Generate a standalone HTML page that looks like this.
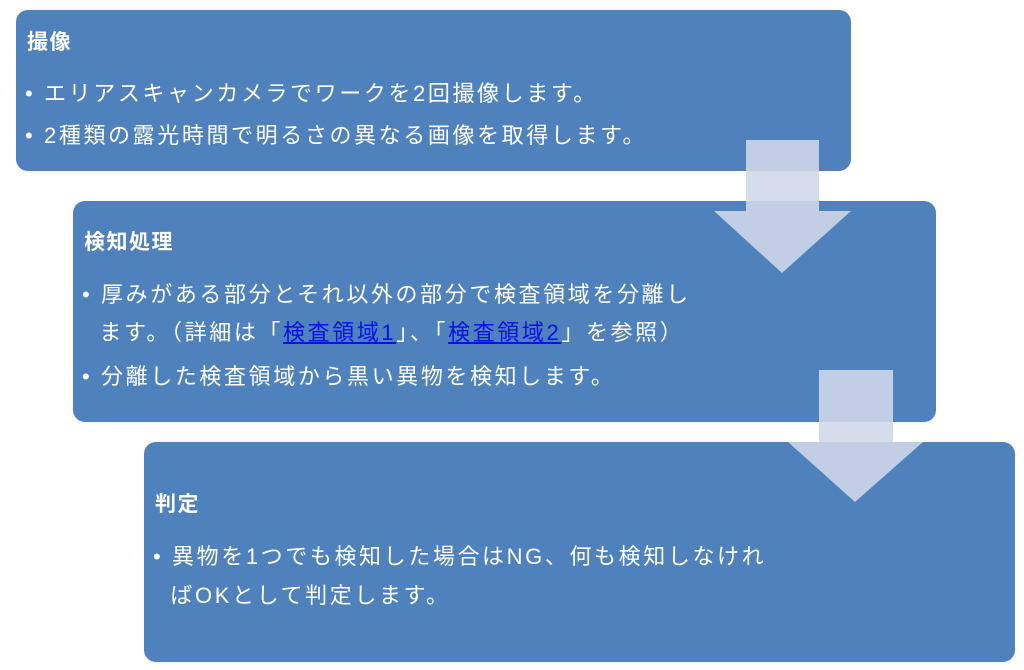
<!DOCTYPE html>
<html><head><meta charset="utf-8"><style>
body{margin:0;width:1024px;height:670px;background:#fff;position:relative;overflow:hidden;font-family:"Liberation Sans","Noto Sans CJK JP",sans-serif;color:#fff}
.b{position:absolute;background:#4f81bd;border-radius:12px}
.t{position:absolute;font-size:22px;letter-spacing:2.6px;white-space:nowrap;line-height:24px}
.h{font-weight:bold;font-size:21px;letter-spacing:1.5px}
a{color:#0a10e8;text-decoration:underline}
svg{position:absolute;left:0;top:0}
</style></head><body>
<div class="b" style="left:16px;top:10px;width:835px;height:161px"></div>
<div class="b" style="left:73px;top:201px;width:863px;height:221px"></div>
<div class="b" style="left:144px;top:442px;width:871px;height:220px"></div>
<svg width="1024" height="670">
<polygon points="746,140 819,140 819,211 851,211 782,273 714,211 746,211" fill="rgba(208,216,232,0.89)"/>
<polygon points="819,370 893,370 893,442 923,442 855,502 788,442 819,442" fill="rgba(208,216,232,0.89)"/>
</svg>
<div class="t h" style="left:27px;top:31px">撮像</div>
<div class="t" style="left:25px;top:82px">• エリアスキャンカメラでワークを2回撮像します。</div>
<div class="t" style="left:25px;top:124px">• 2種類の露光時間で明るさの異なる画像を取得します。</div>
<div class="t h" style="left:84px;top:231px">検知処理</div>
<div class="t" style="left:82px;top:283px">• 厚みがある部分とそれ以外の部分で検査領域を分離し</div>
<div class="t" style="left:82px;top:321px">&nbsp;&nbsp;ます。（詳細は「<a>検査領域1</a>」、「<a>検査領域2</a>」を参照）</div>
<div class="t" style="left:82px;top:365px">• 分離した検査領域から黒い異物を検知します。</div>
<div class="t h" style="left:155px;top:493px">判定</div>
<div class="t" style="left:153px;top:545px">• 異物を1つでも検知した場合はNG、何も検知しなけれ</div>
<div class="t" style="left:153px;top:584px">&nbsp;&nbsp;ばOKとして判定します。</div>
</body></html>
